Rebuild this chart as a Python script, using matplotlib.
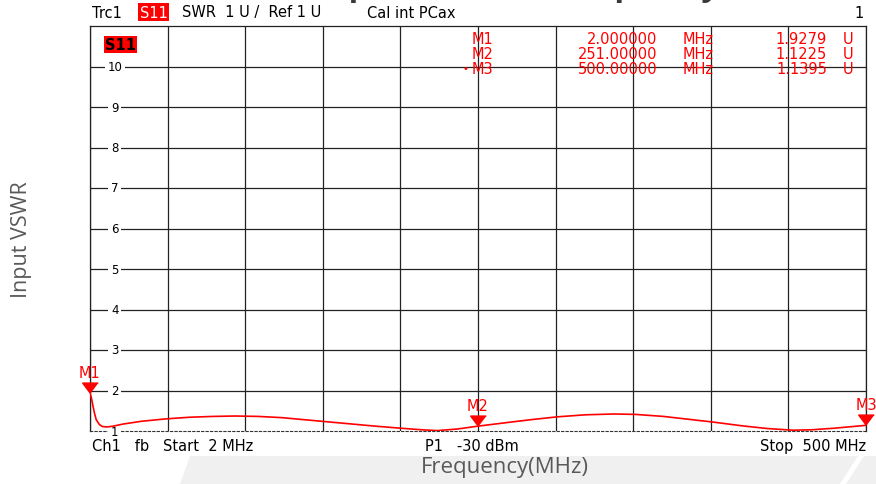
import numpy as np
import matplotlib.pyplot as plt
from matplotlib.patches import Polygon

# S11 trace
freq_mhz = [2, 3, 4, 5, 6, 8, 10, 13, 17, 23, 35, 51, 66, 81, 95, 110, 125, 145,
            165, 185, 201, 215, 225, 238, 251, 270, 285, 302, 320, 338, 352, 370,
            386, 402, 420, 437, 453, 465, 480, 500]
vswr = [1.93, 1.80, 1.60, 1.42, 1.28, 1.16, 1.11, 1.10, 1.12, 1.17, 1.24, 1.30,
        1.34, 1.36, 1.37, 1.36, 1.33, 1.26, 1.19, 1.12, 1.07, 1.03, 1.01, 1.05,
        1.12, 1.21, 1.28, 1.35, 1.40, 1.42, 1.41, 1.36, 1.29, 1.22, 1.13, 1.06,
        1.02, 1.03, 1.07, 1.14]

marker_names = ['M1', 'M2', 'M3']
marker_freq = [2.0, 251.0, 500.0]
marker_vswr = [1.9279, 1.1225, 1.1395]
marker_freq_txt = ['2.000000', '251.00000', '500.00000']
marker_vswr_txt = ['1.9279', '1.1225', '1.1395']

y_ticks = [1, 2, 3, 4, 5, 6, 7, 8, 9, 10]

W, H = 876, 485
def fx(px):
    return px / W
def fy(py):
    return 1 - py / H

inst = 'DejaVu Sans'
fs = 10.5
red = '#ff0000'

fig = plt.figure(figsize=(8.76, 4.85), dpi=100)

# background band at the bottom
fig.patches.append(Polygon([(fx(180), fy(485)), (fx(190), fy(457)), (1, fy(457)), (1, 0)],
                           closed=True, transform=fig.transFigure, facecolor='#f0f0f0',
                           edgecolor='none', zorder=0))
fig.patches.append(Polygon([(fx(840), fy(485)), (fx(858), fy(457)), (fx(864), fy(457)), (fx(846), fy(485))],
                           closed=True, transform=fig.transFigure, facecolor='white',
                           edgecolor='none', zorder=0))

ax = fig.add_axes([fx(90), fy(432), fx(866) - fx(90), fy(27) - fy(432)])
ax.set_xlim(2, 500)
ax.set_ylim(1, 11)
ax.set_xticks(np.linspace(2, 500, 11))
ax.set_yticks([])
ax.tick_params(axis='x', length=0, labelbottom=False)
ax.grid(axis='x', color='#222222', linewidth=0.9)
for s in ['left', 'right', 'top']:
    ax.spines[s].set_color('#222222')
    ax.spines[s].set_linewidth(0.9)
ax.spines['bottom'].set_linestyle((0, (2, 2)))
ax.spines['bottom'].set_color('#333333')

for v in y_ticks[1:]:
    ax.axhline(v, color='#222222', linewidth=0.9)
for v in y_ticks:
    ax.text(fx(118) - fx(90), v, str(v), transform=ax.get_yaxis_transform(),
            ha='center', va='center', fontsize=8.5, family=inst,
            bbox=dict(facecolor='white', edgecolor='none', pad=2), clip_on=False)

ax.plot(freq_mhz, vswr, color=red, linewidth=1.2, zorder=5)

tri = [(0, 0), (-0.75, 1.0), (0.75, 1.0)]
for name, f, v in zip(marker_names, marker_freq, marker_vswr):
    ax.plot([f], [v], marker=tri, markersize=15, color=red, linestyle='none',
            clip_on=False, zorder=6)
    ax.annotate(name, (f, v), xytext=(0, 9.5), textcoords='offset points',
                ha='center', va='bottom', color=red, fontsize=fs, family=inst,
                annotation_clip=False)

ax.text(fx(107) - fx(90), 10.55, 'S11', transform=ax.get_yaxis_transform(),
        ha='left', va='center', fontsize=fs, fontweight='bold', family=inst,
        bbox=dict(facecolor=red, edgecolor='none', pad=0.8))

# marker readout table
for i, name in enumerate(marker_names):
    y = fy(40 + 14.7 * i)
    if i == 2:
        fig.text(fx(465), y, '\u2022', color=red, fontsize=7, family=inst, ha='center', va='center')
    fig.text(fx(472), y, name, color=red, fontsize=fs, family=inst, va='center')
    fig.text(fx(657), y, marker_freq_txt[i], color=red, fontsize=fs, family=inst, va='center', ha='right')
    fig.text(fx(683), y, 'MHz', color=red, fontsize=fs, family=inst, va='center')
    fig.text(fx(827), y, marker_vswr_txt[i], color=red, fontsize=fs, family=inst, va='center', ha='right')
    fig.text(fx(843), y, 'U', color=red, fontsize=fs, family=inst, va='center')

# header line
fig.text(fx(92), fy(13), 'Trc1', fontsize=fs, family=inst, va='center')
fig.text(fx(140), fy(13), 'S11', fontsize=fs, family=inst, va='center', color='white',
         bbox=dict(facecolor=red, edgecolor='none', pad=1.2))
fig.text(fx(182), fy(13), 'SWR  1 U /  Ref 1 U', fontsize=fs, family=inst, va='center')
fig.text(fx(367), fy(13), 'Cal int PCax', fontsize=fs, family=inst, va='center')
fig.text(fx(864), fy(13), '1', fontsize=fs, family=inst, va='center', ha='right')

# footer line
fig.text(fx(92), fy(447), 'Ch1   fb   Start  2 MHz', fontsize=fs, family=inst, va='center')
fig.text(fx(425), fy(447), 'P1   -30 dBm', fontsize=fs, family=inst, va='center')
fig.text(fx(866), fy(447), 'Stop  500 MHz', fontsize=fs, family=inst, va='center', ha='right')

# slide title, mostly cut off above the picture
fig.text(fx(317), fy(-5), 'Input VSWR vs Frequency', fontsize=23, fontweight='bold',
         family='Open Sans', color='#3a3a3a', va='baseline', ha='left')

fig.text(fx(505), fy(468), 'Frequency(MHz)', fontsize=16, family='Open Sans',
         color='#595959', ha='center', va='center')
fig.text(fx(22), fy(240), 'Input VSWR', fontsize=15.5, family='Open Sans',
         color='#595959', ha='center', va='center', rotation=90)

fig.savefig('out.png', dpi=100)
